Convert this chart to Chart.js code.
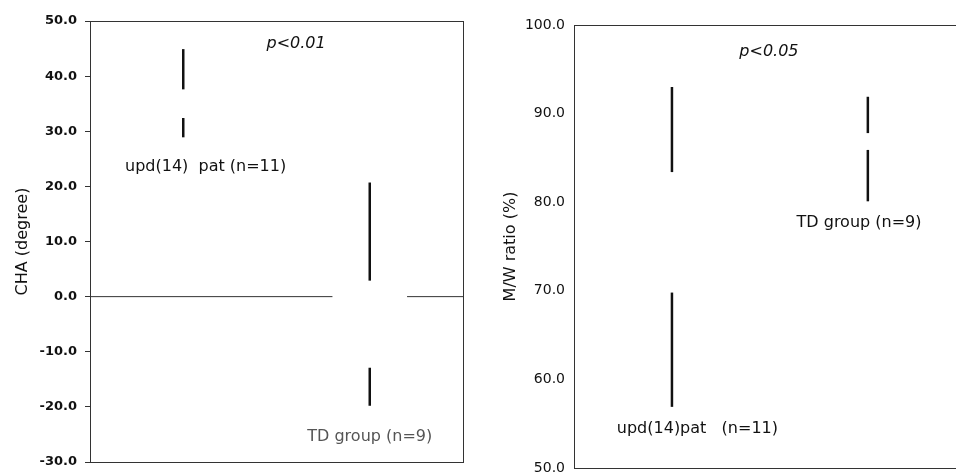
<!DOCTYPE html>
<html>
<head>
<meta charset="utf-8">
<script src="https://cdn.jsdelivr.net/npm/chart.js@4.4.1/dist/chart.umd.min.js"></script>
<style>
  body { margin: 0; background: #fff; overflow: hidden; }
  #wrap { position: relative; width: 956px; height: 475px; }
  #chaChart { position: absolute; left: 0; top: 0; }
  #mwChart { position: absolute; left: 478px; top: 0; }
</style>
</head>
<body>
<div id="wrap">
  <canvas id="chaChart" width="478" height="475"></canvas>
  <canvas id="mwChart" width="478" height="475"></canvas>
</div>
<script>
// Group positions on the x axis (upd(14)pat left, TD group right)
const groupPositions = [1, 3];

// CHA (degree): visible segments of each group's bar, [low, high]
const chaUpdSegments = [[28.9, 32.4], [37.6, 44.9]];
const chaTdSegments = [[-19.8, -12.9], [2.9, 20.7]];
const chaZeroLine = [[0, 2.6], [3.4, 4]]; // zero line, with its gap round TD
const chaTicks = [50, 40, 30, 20, 10, 0, -10, -20, -30];

// M/W ratio (%): visible segments of each group's bar, [low, high]
const mwUpdSegments = [[56.9, 69.8], [83.4, 93.0]];
const mwTdSegments = [[80.1, 85.9], [87.8, 91.9]];
const mwTicks = [100, 90, 80, 70, 60, 50];

// Text written in the plots
const chaLabels = ['p<0.01', 'upd(14)  pat (n=11)', 'TD group (n=9)'];
const mwLabels = ['p<0.05', 'TD group (n=9)', 'upd(14)pat   (n=11)'];

const FONT = "'DejaVu Sans', 'Liberation Sans', sans-serif";

// Make one line dataset per segment
function segmentDatasets(segments, xPos) {
  return segments.map(function (seg) {
    return {
      data: [{ x: xPos, y: seg[0] }, { x: xPos, y: seg[1] }],
      xAxisID: 'x',
      yAxisID: 'y',
      borderColor: '#111',
      borderWidth: 2.5,
      pointRadius: 0,
      fill: false,
    };
  });
}

// Draw the labels at data coordinates
function labelPlugin(items) {
  return {
    id: 'labels',
    afterDatasetsDraw(chart) {
      const ctx = chart.ctx;
      const xs = chart.scales.x;
      const ys = chart.scales.y;
      ctx.save();
      ctx.textAlign = 'center';
      ctx.textBaseline = 'middle';
      items.forEach(function (it) {
        ctx.font = it.font;
        ctx.fillStyle = it.color;
        ctx.fillText(it.text, xs.getPixelForValue(it.x), ys.getPixelForValue(it.y));
      });
      ctx.restore();
    },
  };
}

// Extra axes used only for the frame lines
function frameAxis(position) {
  return {
    type: 'linear',
    position: position,
    display: true,
    ticks: { display: false },
    grid: { drawOnChartArea: false, drawTicks: false },
    border: { display: true, color: '#333', width: 1 },
  };
}

// Left panel: CHA
const chaDatasets = []
  .concat(segmentDatasets(chaUpdSegments, groupPositions[0]))
  .concat(segmentDatasets(chaTdSegments, groupPositions[1]))
  .concat(chaZeroLine.map(function (seg) {
    return {
      data: [{ x: seg[0], y: 0 }, { x: seg[1], y: 0 }],
      xAxisID: 'x',
      yAxisID: 'y',
      borderColor: '#333',
      borderWidth: 1,
      pointRadius: 0,
      fill: false,
    };
  }));

new Chart(document.getElementById('chaChart').getContext('2d'), {
  type: 'line',
  data: { datasets: chaDatasets },
  options: {
    responsive: false,
    animation: false,
    layout: { padding: { top: 21, right: 15, bottom: 13, left: 0 } },
    plugins: { legend: { display: false }, tooltip: { enabled: false } },
    scales: {
      x: {
        type: 'linear',
        min: 0,
        max: 4,
        ticks: { display: false },
        grid: { drawOnChartArea: false, drawTicks: false },
        border: { display: true, color: '#333', width: 1 },
      },
      y: {
        min: chaTicks[chaTicks.length - 1],
        max: chaTicks[0],
        afterBuildTicks(scale) {
          scale.ticks = chaTicks.map(function (v) { return { value: v }; });
        },
        afterFit(scale) {
          scale.width = 90;
          scale.paddingBottom = 0;
        },
        ticks: {
          callback: function (v) { return Number(v).toFixed(1); },
          color: '#111',
          font: { family: FONT, size: 13, weight: 'bold' },
          padding: 8,
        },
        grid: { drawOnChartArea: false, tickLength: 5, color: '#333' },
        border: { display: true, color: '#333', width: 1 },
        title: {
          display: true,
          text: 'CHA (degree)',
          color: '#111',
          font: { family: FONT, size: 16 },
          padding: { top: 13, bottom: 0 },
        },
      },
      x2: frameAxis('top'),
      y2: frameAxis('right'),
    },
  },
  plugins: [labelPlugin([
    { text: chaLabels[0], x: 2.21, y: 45.8, font: 'italic 16px ' + FONT, color: '#111' },
    { text: chaLabels[1], x: 1.24, y: 23.6, font: '16px ' + FONT, color: '#111' },
    { text: chaLabels[2], x: 3.0, y: -25.5, font: '16px ' + FONT, color: '#555' },
  ])],
});

// Right panel: M/W ratio
const mwDatasets = []
  .concat(segmentDatasets(mwUpdSegments, groupPositions[0]))
  .concat(segmentDatasets(mwTdSegments, groupPositions[1]));

new Chart(document.getElementById('mwChart').getContext('2d'), {
  type: 'line',
  data: { datasets: mwDatasets },
  options: {
    responsive: false,
    animation: false,
    layout: { padding: { top: 25, right: 0, bottom: 7, left: 0 } },
    plugins: { legend: { display: false }, tooltip: { enabled: false } },
    scales: {
      x: {
        type: 'linear',
        min: 0,
        max: 3.9,
        ticks: { display: false },
        grid: { drawOnChartArea: false, drawTicks: false },
        border: { display: true, color: '#333', width: 1 },
      },
      y: {
        min: mwTicks[mwTicks.length - 1],
        max: mwTicks[0],
        afterBuildTicks(scale) {
          scale.ticks = mwTicks.map(function (v) { return { value: v }; });
        },
        afterFit(scale) {
          scale.width = 96;
          scale.paddingBottom = 0; // bottom label is cut by the page edge
        },
        ticks: {
          callback: function (v) { return Number(v).toFixed(1); },
          color: '#111',
          font: { family: FONT, size: 14 },
          padding: 9,
        },
        grid: { drawOnChartArea: false, drawTicks: false },
        border: { display: true, color: '#333', width: 1 },
        title: {
          display: true,
          text: 'M/W ratio (%)',
          color: '#111',
          font: { family: FONT, size: 16 },
          padding: { top: 23, bottom: 0 },
        },
      },
      x2: frameAxis('top'),
    },
  },
  plugins: [labelPlugin([
    { text: mwLabels[0], x: 1.99, y: 97.0, font: 'italic 16px ' + FONT, color: '#111' },
    { text: mwLabels[1], x: 2.91, y: 77.7, font: '16px ' + FONT, color: '#111' },
    { text: mwLabels[2], x: 1.26, y: 54.4, font: '16px ' + FONT, color: '#111' },
  ])],
});
</script>
</body>
</html>
